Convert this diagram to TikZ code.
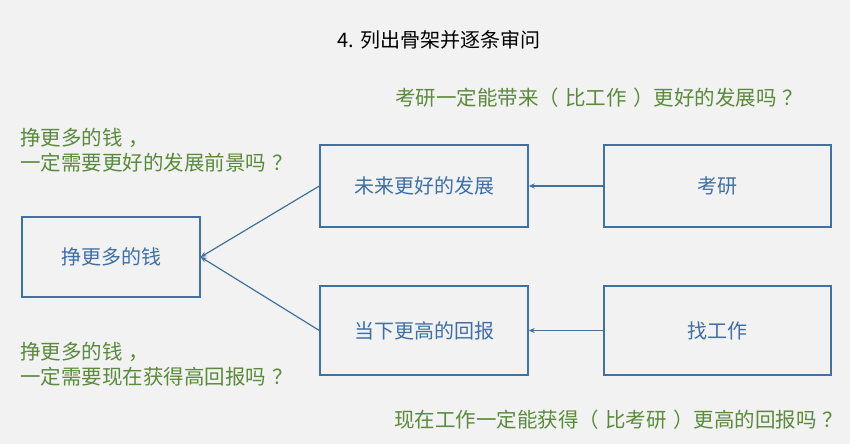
\documentclass[tikz,border=0pt]{standalone}
\usepackage{fontspec}
\setmainfont{Noto Sans CJK SC}
\usepackage{xcolor}
\usetikzlibrary{positioning, arrows.meta}

\definecolor{boxblue}{HTML}{41719C}
\definecolor{textblue}{HTML}{3F6FA5}
\definecolor{askgreen}{HTML}{5A8A3C}
\definecolor{bggray}{HTML}{F2F2F2}

\newcommand{\qgap}{\hspace{0.3em}}

\begin{document}
\begin{tikzpicture}[
        x=1pt, y=-1pt,
        box/.style={rectangle, draw=boxblue, line width=1.3pt, minimum width=208pt, minimum height=82pt, text=textblue, font=\fontsize{20}{24}\selectfont},
        question/.style={inner sep=0pt, text=askgreen, align=left, font=\fontsize{20.5}{25}\selectfont},
        link/.style={draw=boxblue, line width=1.2pt, -{Stealth[length=6pt,width=5pt]}},
    ]
        \fill[bggray] (0,0) rectangle (850,444);
        \useasboundingbox (0,0) rectangle (850,444);

        \node[inner sep=0pt, font=\fontsize{20}{24}\selectfont] (title) at (439,40) {4. 列出骨架并逐条审问};

        \node[box, minimum width=178pt, minimum height=80pt] (money) at (111,257) {挣更多的钱};
        \node[box] (future) at (424,186) {未来更好的发展};
        \node[box, minimum height=89pt] (return) at (424,330.5) {当下更高的回报};
        \node[box, minimum width=227pt] (exam) at (717.5,186) {考研};
        \node[box, minimum width=227pt, minimum height=89pt] (job) at (717.5,330.5) {找工作};

        \node[question, anchor=west] (q1) at (395,98) {考研一定能带来（\qgap 比工作\qgap）更好的发展吗\qgap？};
        \node[question, anchor=west] (q2) at (20,150.5) {挣更多的钱\qgap，\\一定需要更好的发展前景吗\qgap？};
        \node[question, anchor=west] (q3) at (20,364) {挣更多的钱\qgap，\\一定需要现在获得高回报吗\qgap？};
        \node[question, anchor=west] (q4) at (394,420) {现在工作一定能获得（\qgap 比考研\qgap）更高的回报吗\qgap？};

        \draw[link] (exam) -- (future);
        \draw[link] (job) -- (return);
        \draw[link] (future.west) -- (money.east);
        \draw[link] (return.west) -- (money.east);
    \end{tikzpicture}
\end{document}
